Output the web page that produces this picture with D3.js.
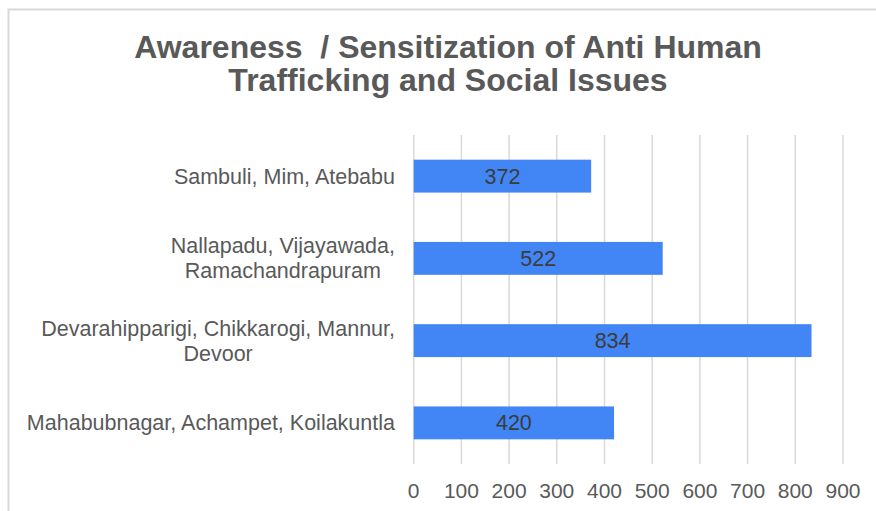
<!DOCTYPE html>
<html>
<head>
<meta charset="utf-8">
<title></title>
<style>
body { margin: 0; background: #fff; }
text { font-family: "Liberation Sans", Arial, sans-serif; }
.grid line { stroke: #d9d9d9; stroke-width: 1.5px; }
</style>
</head>
<body>
<script src="https://cdn.jsdelivr.net/npm/d3@7"></script>
<script>

var titleLines = ["Awareness  / Sensitization of Anti Human", "Trafficking and Social Issues"];
var categories = [
  "Sambuli, Mim, Atebabu",
  "Nallapadu, Vijayawada, Ramachandrapuram",
  "Devarahipparigi, Chikkarogi, Mannur, Devoor",
  "Mahabubnagar, Achampet, Koilakuntla"
];
var values = [372, 522, 834, 420];
var ticks = [0, 100, 200, 300, 400, 500, 600, 700, 800, 900];

var width = 876,
    height = 511;

var svg = d3.select("body").append("svg")
    .attr("width", width)
    .attr("height", height);

// chart frame (only the top and left edges are inside the picture)
svg.append("rect")
    .attr("x", 8.5)
    .attr("y", 9.5)
    .attr("width", 1000)
    .attr("height", 1000)
    .style("fill", "none")
    .style("stroke", "#d9d9d9")
    .style("stroke-width", 2);

// title, one text per line
svg.append("g")
    .selectAll("text")
    .data(titleLines)
    .enter().append("text")
    .attr("x", 448)
    .attr("y", function(d, i) { return 57.5 + i * 33; })
    .attr("text-anchor", "middle")
    .style("white-space", "pre")
    .style("font-size", "32px")
    .style("font-weight", "bold")
    .style("fill", "#595959")
    .text(function(d) { return d; });

var x = d3.scaleLinear().domain([0, 900]).range([413.7, 843]);

var y = d3.scaleBand()
    .domain(categories)
    .range([135, 464])
    .paddingInner(0.6)
    .paddingOuter(0.3);

// vertical gridlines
svg.append("g")
    .attr("class", "grid")
    .selectAll("line")
    .data(ticks)
    .enter().append("line")
    .attr("x1", function(d) { return x(d); })
    .attr("x2", function(d) { return x(d); })
    .attr("y1", 135)
    .attr("y2", 464);

// x tick labels
svg.append("g")
    .selectAll("text")
    .data(ticks)
    .enter().append("text")
    .attr("x", function(d) { return x(d); })
    .attr("y", 498)
    .attr("text-anchor", "middle")
    .style("font-size", "21px")
    .style("fill", "#595959")
    .text(function(d) { return d; });

// bars
svg.append("g")
    .selectAll("rect")
    .data(values)
    .enter().append("rect")
    .attr("x", x(0))
    .attr("y", function(d, i) { return y(categories[i]); })
    .attr("width", function(d) { return x(d) - x(0); })
    .attr("height", y.bandwidth())
    .style("fill", "#4285f4");

// value labels inside bars
svg.append("g")
    .selectAll("text")
    .data(values)
    .enter().append("text")
    .attr("x", function(d) { return (x(0) + x(d)) / 2; })
    .attr("y", function(d, i) { return y(categories[i]) + y.bandwidth() / 2; })
    .attr("dy", "0.35em")
    .attr("text-anchor", "middle")
    .style("font-size", "21.5px")
    .style("fill", "#3c3c3c")
    .text(function(d) { return d; });

// category labels, wrapped, lines centred, block right aligned
var labelRight = 395,
    maxLabel = 390,
    lineHeight = 25;

categories.forEach(function(cat) {
  var g = svg.append("g");
  var words = cat.split(" "),
      lines = [],
      line = "";
  var probe = g.append("text").style("font-size", "21.5px");
  words.forEach(function(w) {
    var test = line ? line + " " + w : w;
    probe.text(test);
    if (line && probe.node().getComputedTextLength() > maxLabel) {
      lines.push(line);
      line = w;
    } else {
      line = test;
    }
  });
  lines.push(line);
  var widths = lines.map(function(l) {
    probe.text(l);
    return probe.node().getComputedTextLength();
  });
  probe.remove();
  var blockW = d3.max(widths),
      cx = labelRight - blockW / 2,
      cy = y(cat) + y.bandwidth() / 2,
      top = cy - (lines.length - 1) * lineHeight / 2;
  g.selectAll("text")
      .data(lines)
      .enter().append("text")
      .attr("x", cx)
      .attr("y", function(d, i) { return top + i * lineHeight; })
      .attr("dy", "0.35em")
      .attr("text-anchor", "middle")
      .style("font-size", "21.5px")
      .style("fill", "#595959")
      .text(function(d) { return d; });
});

</script>
</body>
</html>
